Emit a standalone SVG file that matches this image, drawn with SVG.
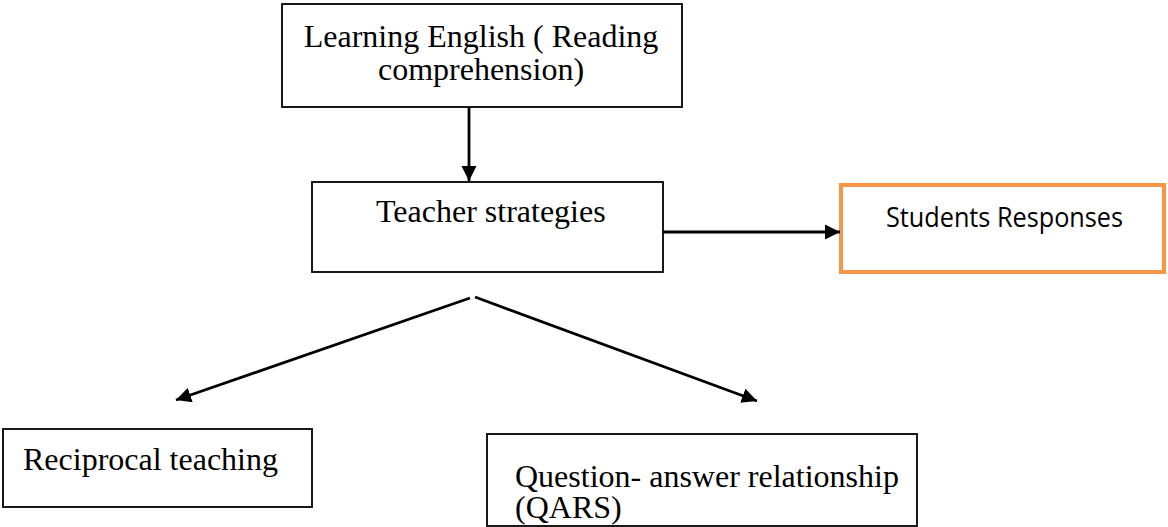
<svg xmlns="http://www.w3.org/2000/svg" width="1168" height="527" viewBox="0 0 1168 527">
<style>
.box{fill:#fff;stroke:#000;stroke-width:1.8}
.obox{fill:#fff;stroke:#F79646;stroke-width:4}
.t{font-family:"Liberation Serif","Times New Roman",serif;font-size:32px;fill:#000}
.s{font-family:"Open Sans","Liberation Sans",sans-serif;font-size:27px;fill:#000}
.c{stroke:#000;stroke-width:2.8;fill:none}
</style>
<defs>
<marker id="ah" viewBox="0 0 10 10" refX="10" refY="5" markerWidth="5.4" markerHeight="5.4" markerUnits="strokeWidth" orient="auto">
<path d="M0,0 L10,5 L0,10 Z" fill="#000"/>
</marker>
</defs>
<rect width="1168" height="527" fill="#fff"/>
<g id="node-learning">
<rect class="box" x="282" y="4" width="400" height="103"/>
<text class="t" x="481" y="47" text-anchor="middle">Learning English ( Reading</text>
<text class="t" x="481" y="80" text-anchor="middle">comprehension)</text>
</g>
<g id="node-teacher">
<rect class="box" x="312" y="182" width="351" height="90"/>
<text class="t" x="376" y="222">Teacher strategies</text>
</g>
<g id="node-students">
<rect class="obox" x="841" y="185" width="323" height="87"/>
<text class="s" x="886" y="227" textLength="237" lengthAdjust="spacingAndGlyphs">Students Responses</text>
</g>
<g id="node-reciprocal">
<rect class="box" x="3" y="429" width="309" height="78"/>
<text class="t" x="23" y="470">Reciprocal teaching</text>
</g>
<g id="node-qars">
<rect class="box" x="487" y="434" width="430" height="92"/>
<text class="t" x="515" y="487">Question- answer relationship</text>
<text class="t" x="515" y="518">(QARS)</text>
</g>
<g id="connectors">
<line class="c" x1="469" y1="107" x2="469" y2="181" marker-end="url(#ah)"/>
<line class="c" x1="663" y1="232" x2="840" y2="232" marker-end="url(#ah)"/>
<line class="c" x1="470" y1="298" x2="176" y2="400" marker-end="url(#ah)"/>
<line class="c" x1="475" y1="297" x2="757" y2="401" marker-end="url(#ah)"/>
</g>
</svg>
